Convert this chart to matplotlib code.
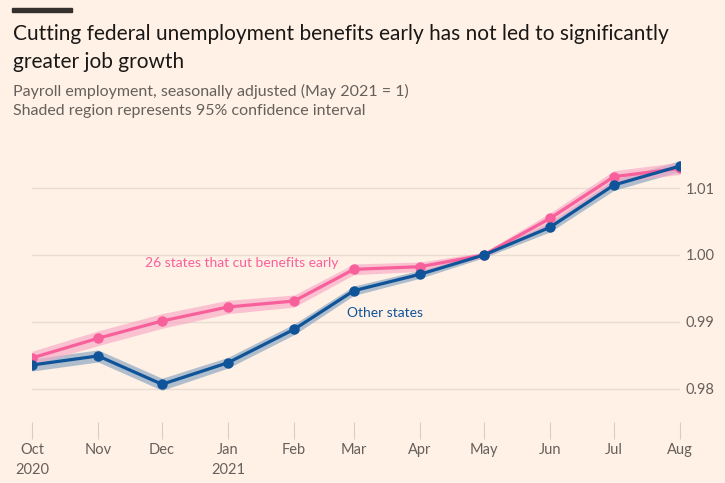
import pandas as pd
import numpy as np
import matplotlib.pyplot as plt
from matplotlib.patches import Rectangle

# Dati
mesi = pd.date_range("2020-10-01", "2021-08-01", freq="MS")
etichette = ["Oct\n2020", "Nov", "Dec", "Jan\n2021", "Feb", "Mar", "Apr", "May", "Jun", "Jul", "Aug"]

taglio = [0.98463, 0.98757, 0.99015, 0.99224, 0.99313, 0.99786, 0.99825, 1.0000, 1.00547, 1.01169, 1.01294]
taglio_ci = [0.0010, 0.0011, 0.0011, 0.0010, 0.0009, 0.0008, 0.0007, 0.0004, 0.0008, 0.0009, 0.0009]

altri = [0.98358, 0.98493, 0.98070, 0.98393, 0.98891, 0.99467, 0.99712, 1.0000, 1.00413, 1.01045, 1.01328]
altri_ci = [0.0009, 0.0009, 0.0009, 0.0008, 0.0008, 0.0007, 0.0006, 0.0004, 0.0007, 0.0008, 0.0008]

yticks = [0.98, 0.99, 1.00, 1.01]

sfondo = "#FFF1E5"
rosa = "#F8609B"
blu = "#0F5499"
grigio = "#66605C"

plt.rcParams['font.family'] = ['Lato', 'DejaVu Sans']

fig = plt.figure(figsize=(7.25, 4.83), dpi=100, facecolor=sfondo)
ax = fig.add_axes([32 / 725, 1 - 422 / 483, 648 / 725, 262 / 483])
ax.set_facecolor(sfondo)

t = np.array(taglio)
tc = np.array(taglio_ci)
a = np.array(altri)
ac = np.array(altri_ci)

ax.fill_between(mesi, a - ac, a + ac, color="#A3B4C8", alpha=0.85, lw=0, zorder=2)
ax.fill_between(mesi, t - tc, t + tc, color="#F8A8C6", alpha=0.65, lw=0, zorder=3)
ax.plot(mesi, altri, color=blu, lw=2.3, marker="o", ms=6.5, zorder=5)
ax.plot(mesi, taglio, color=rosa, lw=2.3, marker="o", ms=6.5, zorder=4)

ax.text(pd.Timestamp("2020-11-23"), 0.99881, "26 states that cut benefits early",
        color=rosa, fontsize=10, va="center", ha="left")
ax.text(pd.Timestamp("2021-02-26"), 0.99134, "Other states",
        color=blu, fontsize=10, va="center", ha="left")

ax.set_xlim(mesi[0], mesi[-1])
ax.set_ylim(0.97507, 1.01418)

ax.set_yticks(yticks)
ax.set_yticklabels([f"{v:.2f}" for v in yticks])
ax.yaxis.tick_right()
ax.tick_params(axis="y", length=0, pad=4, labelsize=10.5, labelcolor=grigio)
ax.grid(axis="y", color="#E9DCD1", lw=1, zorder=0)

ax.set_xticks(mesi)
ax.set_xticklabels(etichette)
ax.tick_params(axis="x", length=12, width=0.8, color="#D6CDC4", pad=3,
               labelsize=10.5, labelcolor=grigio)
for lab in ax.get_xticklabels():
    lab.set_linespacing(1.6)

for s in ax.spines.values():
    s.set_visible(False)

# Titolo e sottotitolo
fig.patches.append(Rectangle((12 / 725, 1 - 12 / 483), 60 / 725, 4 / 483,
                             transform=fig.transFigure, color="#33302E"))
fig.text(13 / 725, 1 - 34 / 483, "Cutting federal unemployment benefits early has not led to significantly",
         fontsize=15, color="#1A1817", va="center")
fig.text(13 / 725, 1 - 62 / 483, "greater job growth",
         fontsize=15, color="#1A1817", va="center")
fig.text(13 / 725, 1 - 91 / 483, "Payroll employment, seasonally adjusted (May 2021 = 1)",
         fontsize=11.5, color=grigio, va="center")
fig.text(13 / 725, 1 - 111 / 483, "Shaded region represents 95% confidence interval",
         fontsize=11.5, color=grigio, va="center")

plt.savefig("out.png", dpi=100, facecolor=sfondo)
